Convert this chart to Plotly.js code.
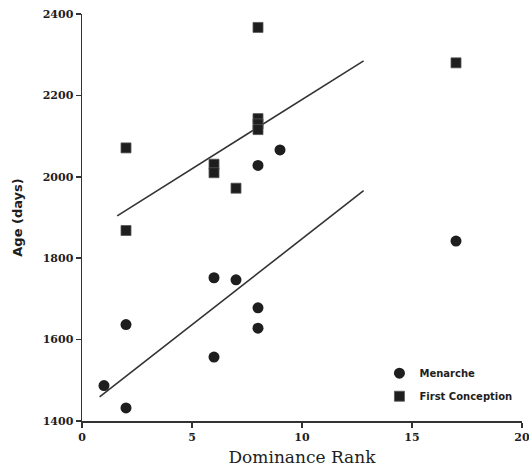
<!DOCTYPE html>
<html>
<head>
<meta charset="utf-8">
<script src="https://cdn.plot.ly/plotly-3.0.1.min.js"></script>
<style>html,body{margin:0;padding:0;background:#fff;}#chart{width:529px;height:467px;}</style>
</head>
<body>
<div id="chart"></div>
<script>
// Menarche (circles)
const menarcheRank = [1, 2, 2, 6, 6, 7, 8, 8, 8, 9, 17];
const menarcheAge  = [1487, 1432, 1637, 1752, 1557, 1747, 2028, 1678, 1628, 2066, 1842];
// First conception (squares)
const conceptionRank = [2, 2, 6, 6, 7, 8, 8, 8, 8, 17];
const conceptionAge  = [2071, 1868, 2031, 2010, 1972, 2367, 2143, 2130, 2116, 2280];
// Regression lines (endpoints as drawn)
const menarcheFitX = [0.8, 12.8];
const menarcheFitY = [1459, 1966];
const conceptionFitX = [1.6, 12.8];
const conceptionFitY = [1904, 2285];

const xTicks = [0, 5, 10, 15, 20];
const yTicks = [1400, 1600, 1800, 2000, 2200, 2400];

const serif = "DejaVu Serif, Liberation Serif, serif";
const sans = "DejaVu Sans, Liberation Sans, sans-serif";
const ink = "#1e1e1e";

const traces = [
  {x: menarcheFitX, y: menarcheFitY, mode: "lines", line: {color: "#333", width: 1.6}, showlegend: false, hoverinfo: "skip"},
  {x: conceptionFitX, y: conceptionFitY, mode: "lines", line: {color: "#333", width: 1.6}, showlegend: false, hoverinfo: "skip"},
  {x: menarcheRank, y: menarcheAge, mode: "markers", name: "Menarche", legendgroup: "m",
   marker: {symbol: "circle", size: 11, color: ink}},
  {x: conceptionRank, y: conceptionAge, mode: "markers", name: "First Conception", legendgroup: "c",
   marker: {symbol: "square", size: 10, color: ink, line: {color: "#555", width: 0.8}}}
];

const layout = {
  width: 529, height: 467,
  margin: {l: 82, r: 7, t: 14, b: 46},
  paper_bgcolor: "#fff", plot_bgcolor: "#fff",
  showlegend: true,
  legend: {x: 0.676, y: 0.153, xanchor: "left", yanchor: "top", bgcolor: "rgba(0,0,0,0)",
           font: {family: sans, size: 10, color: ink, weight: "bold"}, tracegroupgap: 4},
  xaxis: {
    range: [0, 20], tickvals: xTicks, ticktext: xTicks.map(String),
    showgrid: false, zeroline: false, showline: true, linecolor: "#333", linewidth: 1.5,
    ticks: "outside", ticklen: 5, tickwidth: 1.5, tickcolor: "#333",
    ticklabeloverflow: "allow",
    tickfont: {family: serif, size: 11, color: ink, weight: "bold"},
    title: {text: "Dominance Rank", font: {family: serif, size: 17, color: ink}, standoff: 8}
  },
  yaxis: {
    range: [1400, 2400], tickvals: yTicks, ticktext: yTicks.map(String),
    showgrid: false, zeroline: false, showline: true, linecolor: "#333", linewidth: 1.5,
    ticks: "outside", ticklen: 5, tickwidth: 1.5, tickcolor: "#333",
    tickfont: {family: serif, size: 11, color: ink, weight: "bold"},
    title: {text: "Age (days)", font: {family: sans, size: 13, color: ink, weight: "bold"}, standoff: 17}
  }
};

Plotly.newPlot("chart", traces, layout, {staticPlot: true, displayModeBar: false});
</script>
</body>
</html>
